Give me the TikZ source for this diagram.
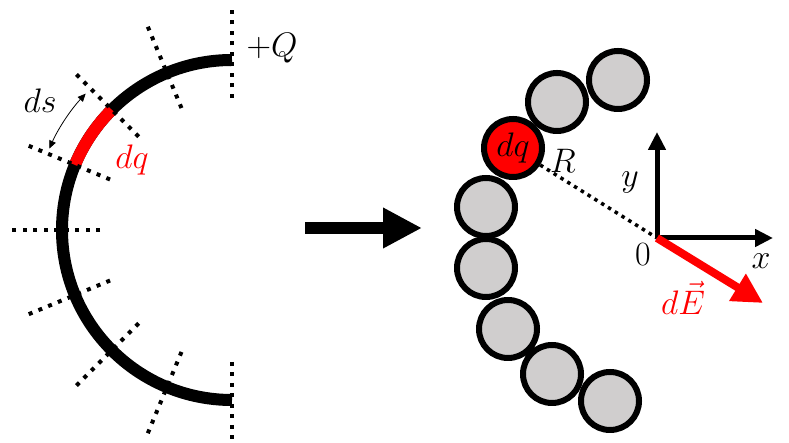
\RequirePackage{fix-cm}
\documentclass[tikz,border=0pt]{standalone}
\usetikzlibrary{arrows.meta}
\definecolor{beadGray}{RGB}{208,206,206}
\begin{document}
\begin{tikzpicture}
[x=1pt,y=1pt,
  arcDecorate/.style={line width=12pt},
  tickDecorate/.style={line width=4pt,dash pattern=on 4pt off 6.5pt},
  radiusDecorate/.style={line width=3.5pt,dash pattern=on 3.5pt off 4.5pt},
  beadDecorate/.style={shape=circle,inner sep=0pt,minimum size=58pt,draw,line width=6pt,fill=beadGray},
  axisDecorate/.style={line width=5pt,-{Triangle[length=18pt,width=17pt]}},
  labelDecorate/.style={font=\fontsize{34}{40}\selectfont}]
\useasboundingbox (0,0) rectangle (789,443);
%% charged arc
\coordinate (c) at (232,213);
\draw[arcDecorate] ([shift={(90:170)}]c) arc[start angle=90,end angle=270,radius=170];
\draw[arcDecorate,red] ([shift={(135:170)}]c) arc[start angle=135,end angle=157.5,radius=170];
%% dotted ticks
\foreach \i [evaluate=\i as \a using 90+22.5*\i] in {0,...,8}
{
  \draw[tickDecorate] ([shift={(\a:132)}]c) -- ([shift={(\a:226)}]c);
}
%% ds marker
\draw[line width=0.8pt,{Triangle[length=8pt,width=7pt]}-{Triangle[length=8pt,width=7pt]}]
  ([shift={(137:200)}]c) arc[start angle=137,end angle=156,radius=200];
\node[labelDecorate] (ds) at (40,342) {$ds$};
\node[labelDecorate,text=red] (dqlabel) at (132,283) {$dq$};
\node[labelDecorate] (charge) at (272,395) {$+Q$};
%% big arrow
\coordinate (arrowStart) at (305,215);
\coordinate (arrowEnd) at (422,215);
\draw[line width=12pt,-{Triangle[length=39pt,width=38pt]}] (arrowStart) -- (arrowEnd);
%% beads
\foreach \beadname/\x/\y in {
  b1/618/363, b2/557/341, b4/486/236, b5/486/175, b6/508/114, b7/552/69, b8/610/42}
{
  \node (\beadname) at (\x,\y) [beadDecorate] {};
}
\node (dq) at (513,295) [beadDecorate,fill=red,labelDecorate] {$dq$};
%% axes
\coordinate (o) at (657,205);
\coordinate (yTip) at (657,311);
\coordinate (xTip) at (773,205);
\coordinate (eTip) at (763,140);
\draw[radiusDecorate] (dq) -- (o);
\draw[axisDecorate] (o) -- (yTip);
\draw[axisDecorate] (o) -- (xTip);
\draw[line width=8pt,red,-{Triangle[length=30pt,width=30pt]}] (o) -- (eTip);
\node[labelDecorate] (rlabel) at (563,282) {$R$};
\node[labelDecorate] (ylabel) at (630,261) {$y$};
\node[labelDecorate] (xlabel) at (761,182) {$x$};
\node[labelDecorate] (zero) at (643,188) {$0$};
\node[labelDecorate,text=red] (elabel) at (683,145) {$d\vec{E}$};
\end{tikzpicture}
\end{document}
